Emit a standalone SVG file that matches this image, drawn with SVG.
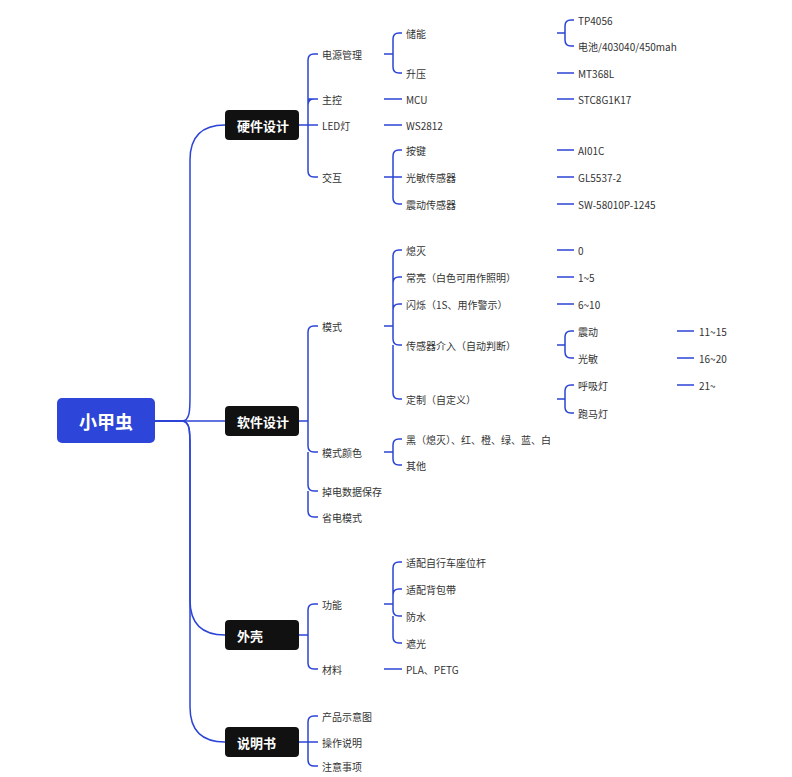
<svg xmlns="http://www.w3.org/2000/svg" width="792" height="777" viewBox="0 0 792 777">
<style>
.c{fill:none;stroke:#2b44d6;stroke-width:1.5}
.t{font-family:"Noto Sans CJK SC","Noto Sans",sans-serif;font-size:10px;fill:#333;dominant-baseline:central}
.l1 rect{fill:#111}
.l1 text{font-family:"Noto Sans CJK SC",sans-serif;font-size:13px;font-weight:bold;fill:#fff;dominant-baseline:central}
</style>
<rect width="792" height="777" fill="#fff"/>
<g id="connectors">
<path class="c" d="M155 421H182C190 421 190 410 190 395V160C190 138 200 125 225 125"/>
<path class="c" d="M155 421H225"/>
<path class="c" d="M155 421H182C190 421 190 432 190 447V600C190 622 200 635 225 635"/>
<path class="c" d="M155 421H182C190 421 190 432 190 447V707C190 729 200 742 225 742"/>
<!-- hardware -->
<path class="c" d="M299 125H308M308 125V60Q308 54 314 54H318M308 99V99H318M308 125H318M308 125V171Q308 177 314 177H318M308 105Q308 99 314 99"/>
<path class="c" d="M384 54H393V39Q393 33 399 33H402M393 54V67Q393 73 399 73H402"/>
<path class="c" d="M384 99H402M384 125H402"/>
<path class="c" d="M384 177H393V156Q393 150 399 150H402M393 177H402M393 177V198Q393 204 399 204H402"/>
<path class="c" d="M557 33H565V26Q565 20 571 20H574M565 33V40Q565 46 571 46H574"/>
<path class="c" d="M557 73H574M557 99H574M557 150H574M557 177H574M557 204H574"/>
<!-- software -->
<path class="c" d="M299 421H308M308 421V332Q308 326 314 326H318M308 421V446Q308 452 314 452H318M308 452V485Q308 491 314 491H318M308 491V511Q308 517 314 517H318"/>
<path class="c" d="M384 326H393V256Q393 250 399 250H402M393 283Q393 277 399 277H402M393 310Q393 304 399 304H402M393 326V339Q393 345 399 345H402M393 345V393Q393 399 399 399H402"/>
<path class="c" d="M557 250H574M557 277H574M557 304H574"/>
<path class="c" d="M557 345H565V337Q565 331 571 331H574M565 345V352Q565 358 571 358H574"/>
<path class="c" d="M557 399H565V391Q565 385 571 385H574M565 399V407Q565 413 571 413H574"/>
<path class="c" d="M677 331H694M677 358H694M677 385H694"/>
<path class="c" d="M384 452H393V445Q393 439 399 439H402M393 452V459Q393 465 399 465H402"/>
<!-- shell -->
<path class="c" d="M299 635H308M308 635V610Q308 604 314 604H318M308 635V663Q308 669 314 669H318"/>
<path class="c" d="M384 604H393V568Q393 562 399 562H402M393 595Q393 589 399 589H402M393 604V610Q393 616 399 616H402M393 616V637Q393 643 399 643H402"/>
<path class="c" d="M384 669H402"/>
<!-- manual -->
<path class="c" d="M299 742H308M308 742V722Q308 716 314 716H318M308 742H318M308 742V760Q308 766 314 766H318"/>
</g>
<g id="root"><rect x="57" y="398" width="98" height="45" rx="5" fill="#2d45d8"/><text x="106" y="421" text-anchor="middle" font-family="Noto Sans CJK SC,sans-serif" font-size="18" font-weight="bold" fill="#fff" dominant-baseline="central">小甲虫</text></g>
<g id="hw" class="l1"><rect x="225" y="110" width="74" height="30" rx="4"/><text x="237" y="125">硬件设计</text></g>
<g id="sw" class="l1"><rect x="225" y="406" width="74" height="30" rx="4"/><text x="237" y="421">软件设计</text></g>
<g id="shell" class="l1"><rect x="225" y="620" width="74" height="30" rx="4"/><text x="237" y="635">外壳</text></g>
<g id="manual" class="l1"><rect x="225" y="727" width="74" height="30" rx="4"/><text x="237" y="742">说明书</text></g>
<g id="labels" class="t">
<text x="322" y="54">电源管理</text><text x="322" y="99">主控</text><text x="322" y="125">LED灯</text><text x="322" y="177">交互</text>
<text x="406" y="33">储能</text><text x="406" y="73">升压</text><text x="406" y="99">MCU</text><text x="406" y="125">WS2812</text>
<text x="406" y="150">按键</text><text x="406" y="177">光敏传感器</text><text x="406" y="204">震动传感器</text>
<text x="578" y="20">TP4056</text><text x="578" y="46">电池/403040/450mah</text><text x="578" y="73">MT368L</text><text x="578" y="99">STC8G1K17</text>
<text x="578" y="150">AI01C</text><text x="578" y="177">GL5537-2</text><text x="578" y="204">SW-58010P-1245</text>
<text x="322" y="326">模式</text><text x="322" y="452">模式颜色</text><text x="322" y="491">掉电数据保存</text><text x="322" y="517">省电模式</text>
<text x="406" y="250">熄灭</text><text x="406" y="277">常亮（白色可用作照明）</text><text x="406" y="304">闪烁（1S、用作警示）</text><text x="406" y="345">传感器介入（自动判断）</text><text x="406" y="399">定制（自定义）</text>
<text x="578" y="250">0</text><text x="578" y="277">1~5</text><text x="578" y="304">6~10</text><text x="578" y="331">震动</text><text x="578" y="358">光敏</text><text x="578" y="385">呼吸灯</text><text x="578" y="413">跑马灯</text>
<text x="699" y="331">11~15</text><text x="699" y="358">16~20</text><text x="699" y="385">21~</text>
<text x="406" y="439">黑（熄灭）、红、橙、绿、蓝、白</text><text x="406" y="465">其他</text>
<text x="322" y="604">功能</text><text x="322" y="669">材料</text>
<text x="406" y="562">适配自行车座位杆</text><text x="406" y="589">适配背包带</text><text x="406" y="616">防水</text><text x="406" y="643">遮光</text><text x="406" y="669">PLA、PETG</text>
<text x="322" y="716">产品示意图</text><text x="322" y="742">操作说明</text><text x="322" y="766">注意事项</text>
</g>
</svg>
